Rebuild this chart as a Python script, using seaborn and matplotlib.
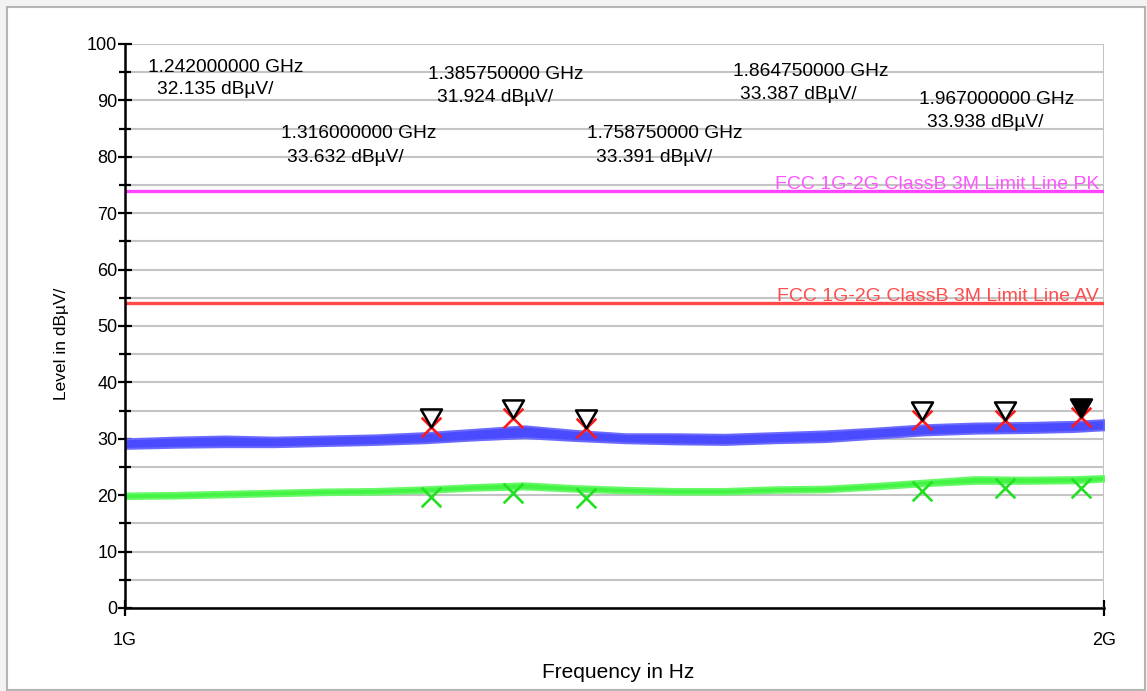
import numpy as np
import pandas as pd
import matplotlib
matplotlib.use("Agg")
import matplotlib.pyplot as plt
from matplotlib.patches import Rectangle
from matplotlib.path import Path
from matplotlib.ticker import FixedLocator, NullLocator, MultipleLocator
import seaborn as sns

# ---------------- data ----------------
trace_freq_mhz = [1000, 1036, 1073, 1112, 1152, 1194, 1237, 1281, 1327, 1375, 1425,
                  1476, 1529, 1584, 1642, 1701, 1762, 1825, 1891, 1959, 2000]
pk_trace_lo = [28.3, 28.5, 28.6, 28.6, 28.8, 29.0, 29.3, 29.8, 30.2, 29.7, 29.3,
               29.1, 29.0, 29.3, 29.5, 30.1, 30.7, 31.0, 31.1, 31.3, 31.6]
pk_trace_hi = [30.0, 30.3, 30.5, 30.3, 30.5, 30.7, 31.1, 31.7, 32.3, 31.5, 30.9,
               30.9, 30.8, 31.1, 31.4, 31.9, 32.5, 32.8, 32.9, 33.1, 33.4]
av_trace_lo = [19.4, 19.5, 19.7, 19.9, 20.1, 20.2, 20.5, 20.9, 21.1, 20.7, 20.4,
               20.2, 20.2, 20.5, 20.6, 21.1, 21.7, 22.1, 22.1, 22.2, 22.5]
av_trace_hi = [20.4, 20.5, 20.7, 20.9, 21.1, 21.2, 21.5, 21.9, 22.2, 21.7, 21.4,
               21.2, 21.2, 21.5, 21.6, 22.1, 22.7, 23.3, 23.2, 23.3, 23.5]

marker_freq_ghz = [1.242, 1.316, 1.38575, 1.75875, 1.86475, 1.967]
marker_pk = [32.135, 33.632, 31.924, 33.391, 33.387, 33.938]
marker_av = [19.7, 20.4, 19.5, 20.7, 21.3, 21.3]
marker_filled = [False, False, False, False, False, True]
marker_freq_text = ["1.242000000 GHz", "1.316000000 GHz", "1.385750000 GHz",
                    "1.758750000 GHz", "1.864750000 GHz", "1.967000000 GHz"]
marker_level_text = ["32.135 dBµV/", "33.632 dBµV/", "31.924 dBµV/",
                     "33.391 dBµV/", "33.387 dBµV/", "33.938 dBµV/"]

limit_freq_mhz = [1000, 2000]
limit_pk = [74, 74]
limit_av = [54, 54]
limit_pk_label = "FCC 1G-2G ClassB 3M Limit Line PK"
limit_av_label = "FCC 1G-2G ClassB 3M Limit Line AV"

x_tick_hz = [1e9, 2e9]
x_tick_labels = ["1G", "2G"]

# ---------------- style ----------------
sns.set_theme(style="white")
plt.rcParams["font.family"] = ["Liberation Sans", "DejaVu Sans"]

W, H = 1147, 691
fig = plt.figure(figsize=(W / 100, H / 100), dpi=100, facecolor="#f2f2f2")
fig.patches.append(Rectangle((7 / W, 1 / H), (1145 - 7) / W, (684 - 1) / H,
                             transform=fig.transFigure, facecolor="white",
                             edgecolor="#b4b4b4", lw=1.5, zorder=-10))

L, R, T, B = 125, 1104, 44, 608
ax = fig.add_axes([L / W, 1 - B / H, (R - L) / W, (B - T) / H])
ax.set_facecolor("none")

tf = np.array(trace_freq_mhz) * 1e6
ax.fill_between(tf, pk_trace_lo, pk_trace_hi, color="#4a4aff", lw=1.4,
                edgecolor="#6a6aff", zorder=3)
ax.fill_between(tf, av_trace_lo, av_trace_hi, color="#44f444", lw=1.4,
                edgecolor="#66f866", zorder=3)

lim_df = pd.DataFrame({"f": np.array(limit_freq_mhz) * 1e6, "pk": limit_pk, "av": limit_av})
sns.lineplot(data=lim_df, x="f", y="pk", color="#ff44ff", lw=2.4, ax=ax, zorder=4)
sns.lineplot(data=lim_df, x="f", y="av", color="#ff4848", lw=2.4, ax=ax, zorder=4)

mf = np.array(marker_freq_ghz) * 1e9
mk_df = pd.DataFrame({"f": mf, "pk": marker_pk, "av": marker_av})
sns.scatterplot(data=mk_df, x="f", y="pk", marker="x", s=200, color="#ff1a1a",
                linewidth=1.9, ax=ax, zorder=5)
sns.scatterplot(data=mk_df, x="f", y="av", marker="x", s=200, color="#22e022",
                linewidth=1.9, ax=ax, zorder=5)

tri = Path([(-0.58, 1.0), (0.58, 1.0), (0.0, 0.0), (-0.58, 1.0)],
           [Path.MOVETO, Path.LINETO, Path.LINETO, Path.CLOSEPOLY])
for f, v, filled in zip(mf, marker_pk, marker_filled):
    ax.plot([f], [v], marker=tri, ms=26, mec="black", mew=1.8,
            mfc="black" if filled else "none", ls="none", zorder=6)

# annotation texts (axes-fraction layout)
ann_pos = [(0.0235, 0.9504, 0.0327, 0.9113),
           (0.1593, 0.8333, 0.1655, 0.7908),
           (0.3095, 0.9379, 0.3187, 0.8972),
           (0.4719, 0.8333, 0.4811, 0.7908),
           (0.6210, 0.9433, 0.6282, 0.9025),
           (0.8110, 0.8936, 0.8192, 0.8528)]
for (x1, y1, x2, y2), t1, t2 in zip(ann_pos, marker_freq_text, marker_level_text):
    ax.text(x1, y1, t1, transform=ax.transAxes, fontsize=13.8, va="baseline",
            ha="left", color="black", zorder=7)
    ax.text(x2, y2, t2, transform=ax.transAxes, fontsize=13.8, va="baseline",
            ha="left", color="black", zorder=7)

# limit labels
ax.text(0.9949, limit_pk[0] + 0.35, limit_pk_label, transform=ax.get_yaxis_transform(),
        ha="right", va="baseline", fontsize=14, color="#ff55ff", zorder=7)
ax.text(0.9949, limit_av[0] + 0.35, limit_av_label, transform=ax.get_yaxis_transform(),
        ha="right", va="baseline", fontsize=14, color="#ff4d4d", zorder=7)

# axes
ax.set_xscale("log")
ax.set_xlim(1e9, 2e9)
ax.set_ylim(0, 100)
ax.xaxis.set_major_locator(FixedLocator(x_tick_hz))
ax.xaxis.set_minor_locator(NullLocator())
ax.set_xticklabels(x_tick_labels)
ax.yaxis.set_major_locator(MultipleLocator(10))
ax.yaxis.set_minor_locator(MultipleLocator(5))

ax.grid(True, which="both", axis="y", color="#c4c4c4", lw=1.5, zorder=1)
ax.grid(True, which="major", axis="x", color="#c4c4c4", lw=1.5, zorder=1)
ax.set_axisbelow(True)

for s in ["top", "right"]:
    ax.spines[s].set_visible(False)
for s in ["left", "bottom"]:
    ax.spines[s].set_visible(True)
    ax.spines[s].set_color("black")
    ax.spines[s].set_linewidth(1.8)
    ax.spines[s].set_zorder(8)

ax.tick_params(axis="y", which="major", direction="inout", length=10, width=1.6,
               color="black", labelcolor="black", labelsize=13, pad=0.5, left=True)
ax.tick_params(axis="y", which="minor", direction="inout", length=8, width=1.6,
               color="black", left=True)
ax.tick_params(axis="x", which="major", direction="inout", length=12, width=1.6,
               color="black", labelcolor="black", labelsize=13, pad=11, bottom=True)

ax.set_xlabel("Frequency in Hz", fontsize=15, color="black")
ax.set_ylabel("Level in dBµV/", fontsize=12.5, color="black")
ax.xaxis.set_label_coords(0.5036, -0.0975)
ax.yaxis.set_label_coords(-0.057, 0.468)

fig.savefig("out.png", dpi=100, facecolor=fig.get_facecolor())
